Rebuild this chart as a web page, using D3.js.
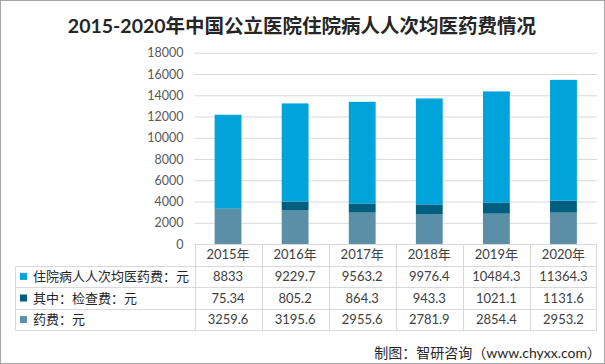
<!DOCTYPE html>
<html><head><meta charset="utf-8">
<script src="https://cdn.jsdelivr.net/npm/d3@7/dist/d3.min.js"></script>
<style>
html,body{margin:0;padding:0;background:#fff;}
svg{display:block;font-family:Lato,"Noto Sans CJK SC",sans-serif;}
</style></head>
<body><svg id="c" width="605" height="364"></svg>
<script>
const years = ["2015年","2016年","2017年","2018年","2019年","2020年"];
const seriesNames = ["住院病人人次均医药费：元","其中：检查费：元","药费：元"];
const totalFee = [8833, 9229.7, 9563.2, 9976.4, 10484.3, 11364.3];
const examFee = [75.34, 805.2, 864.3, 943.3, 1021.1, 1131.6];
const drugFee = [3259.6, 3195.6, 2955.6, 2781.9, 2854.4, 2953.2];
const totalLabels = ["8833","9229.7","9563.2","9976.4","10484.3","11364.3"];
const examLabels = ["75.34","805.2","864.3","943.3","1021.1","1131.6"];
const drugLabels = ["3259.6","3195.6","2955.6","2781.9","2854.4","2953.2"];
const yTicks = [0,2000,4000,6000,8000,10000,12000,14000,16000,18000];
const colors = ["#00A3DA","#005F80","#5B8FA8"];

(function(){
const svg = d3.select("#c");
const pLeft = 194.5, pRight = 597, pTop = 52.75, pBottom = 244;
const x = d3.scaleBand().domain(years).range([pLeft, pRight]).paddingInner(0.6).paddingOuter(0.3);
const xc = d3.scaleBand().domain(years).range([pLeft, pRight]);
const y = d3.scaleLinear().domain([0,18000]).range([pBottom, pTop]);

svg.append("rect").attr("x",0.5).attr("y",0.5).attr("width",604).attr("height",363)
  .attr("fill","none").attr("stroke","#A6A6A6");

svg.append("text").attr("x",302).attr("y",33).attr("text-anchor","middle")
  .attr("font-size",19.5).attr("font-weight","bold").attr("fill","#262626")
  .text("2015-2020年中国公立医院住院病人人次均医药费情况");

const yAxis = d3.axisLeft(y).tickValues(yTicks).tickSize(-(pRight-pLeft)).tickPadding(11).tickFormat(d3.format("d"));
const ga = svg.append("g").attr("transform",`translate(${pLeft},0)`).call(yAxis);
ga.select(".domain").remove();
ga.selectAll(".tick line").attr("stroke","#D9D9D9");
ga.selectAll(".tick text").attr("font-size",12.5).attr("fill","#595959").attr("font-family",'Lato,"Noto Sans CJK SC",sans-serif');

const rows = years.map((yr,i)=>({year:yr, drug:drugFee[i], exam:examFee[i], total:totalFee[i]}));
const stack = d3.stack().keys(["drug","exam","total"])(rows);
const keyColor = {drug:colors[2], exam:colors[1], total:colors[0]};
svg.append("g").selectAll("g").data(stack).join("g")
  .attr("fill",d=>keyColor[d.key])
  .selectAll("rect").data(d=>d).join("rect")
  .attr("x",d=>x(d.data.year)).attr("width",x.bandwidth())
  .attr("y",d=>y(d[1])).attr("height",d=>y(d[0])-y(d[1]));

const tLeft = 15.5, rowH = 21.6;
const rowTops = [pBottom, pBottom+rowH, pBottom+2*rowH, pBottom+3*rowH, pBottom+4*rowH];
const tg = svg.append("g").attr("stroke","#D9D9D9").attr("fill","none");
tg.append("line").attr("x1",pLeft).attr("x2",pRight).attr("y1",pBottom+0.5).attr("y2",pBottom+0.5);
for (let r=1;r<=4;r++){
  tg.append("line").attr("x1",tLeft).attr("x2",pRight).attr("y1",Math.round(rowTops[r])+0.5).attr("y2",Math.round(rowTops[r])+0.5);
}
tg.append("line").attr("x1",tLeft).attr("x2",tLeft).attr("y1",Math.round(rowTops[1])+0.5).attr("y2",Math.round(rowTops[4])+0.5);
years.forEach(yr=>{
  const xx = Math.round(xc(yr))+0.5;
  tg.append("line").attr("x1",xx).attr("x2",xx).attr("y1",pBottom).attr("y2",Math.round(rowTops[4])+0.5);
});
tg.append("line").attr("x1",pRight-0.5).attr("x2",pRight-0.5).attr("y1",pBottom).attr("y2",Math.round(rowTops[4])+0.5);

svg.append("g").selectAll("text").data(years).join("text")
  .attr("x",d=>xc(d)+xc.bandwidth()/2).attr("y",pBottom+rowH/2+4.5)
  .attr("text-anchor","middle").attr("font-size",13).attr("fill","#404040").text(d=>d);

const tableRows = [totalLabels, examLabels, drugLabels];
tableRows.forEach((vals,r)=>{
  const cy = rowTops[r+1]+rowH/2;
  svg.append("rect").attr("x",20).attr("y",cy-3.5).attr("width",7).attr("height",7).attr("fill",colors[r]);
  svg.append("text").attr("x",33).attr("y",cy+4.5).attr("font-size",13).attr("fill","#262626").text(seriesNames[r]);
  svg.append("g").selectAll("text").data(vals).join("text")
    .attr("x",(d,i)=>xc(years[i])+xc.bandwidth()/2).attr("y",cy+4.5)
    .attr("text-anchor","middle").attr("font-size",13).attr("fill","#404040").text(d=>d);
});

svg.append("text").attr("x",601).attr("y",358).attr("text-anchor","end")
  .attr("font-size",14).attr("fill","#262626").text("制图：智研咨询（www.chyxx.com）");
})();
</script>
</body></html>
